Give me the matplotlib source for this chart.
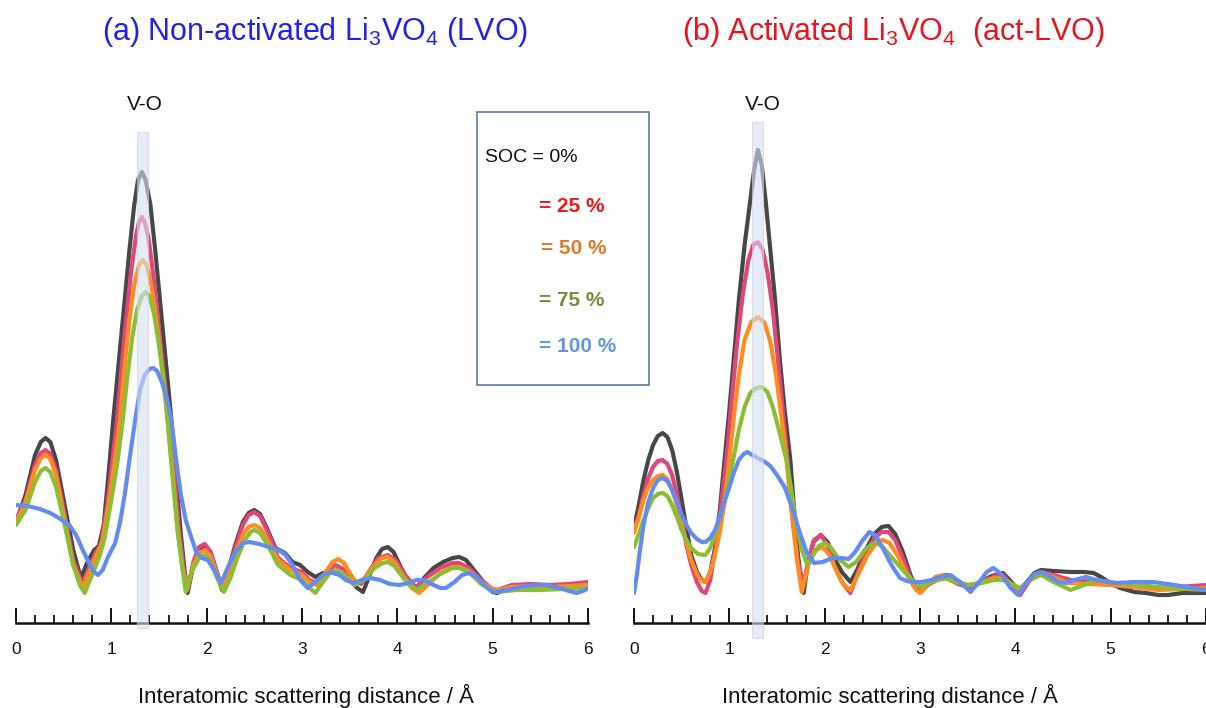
import matplotlib
matplotlib.use("Agg")
import matplotlib.pyplot as plt
from matplotlib.patches import Rectangle

plt.rcParams['font.family'] = ['Liberation Sans', 'DejaVu Sans']
plt.rcParams['mathtext.fontset'] = 'custom'
plt.rcParams['mathtext.rm'] = 'Liberation Sans'
plt.rcParams['mathtext.it'] = 'Liberation Sans:italic'

# ---------------- data (Å, arbitrary intensity) ----------------
# Panel (a): non-activated LVO
a_black_x = [0.00,0.10,0.20,0.26,0.31,0.36,0.42,0.50,0.60,0.68,0.75,0.82,0.87,0.92,0.97,1.02,1.08,1.14,1.19,1.24,1.28,1.32,1.36,1.41,1.46,1.51,1.57,1.63,1.68,1.73,1.77,1.80,1.86,1.92,1.98,2.04,2.10,2.16,2.22,2.30,2.38,2.44,2.50,2.56,2.64,2.72,2.82,2.90,2.98,3.06,3.14,3.22,3.30,3.40,3.50,3.58,3.64,3.71,3.78,3.84,3.90,3.96,4.04,4.12,4.20,4.28,4.38,4.48,4.58,4.65,4.72,4.82,4.92,5.00,5.05,5.15,5.30,5.50,5.70,5.85,6.00]
a_black_y = [98,125,165,178,182,178,160,120,70,42,58,70,74,95,145,200,260,320,370,415,440,448,440,415,370,320,260,200,140,85,48,27,55,70,75,68,50,30,48,75,98,107,110,106,90,72,67,58,55,48,43,47,48,45,40,32,28,45,62,71,73,68,52,38,32,42,52,58,62,63,60,48,36,28,27,32,33,32,33,34,35]

a_pink_x = [0.00,0.10,0.20,0.26,0.31,0.36,0.42,0.50,0.60,0.70,0.78,0.84,0.89,0.95,1.00,1.06,1.11,1.16,1.21,1.26,1.29,1.32,1.35,1.39,1.44,1.50,1.55,1.61,1.66,1.71,1.76,1.80,1.86,1.92,1.98,2.04,2.10,2.16,2.22,2.30,2.38,2.44,2.50,2.56,2.64,2.75,2.88,3.00,3.08,3.15,3.25,3.35,3.45,3.55,3.62,3.70,3.80,3.90,3.98,4.08,4.20,4.30,4.45,4.58,4.65,4.75,4.88,5.00,5.05,5.20,5.40,5.60,5.80,6.00]
a_pink_y = [98,120,155,167,170,166,150,110,60,35,55,68,75,110,150,200,255,305,350,385,398,403,398,382,345,290,245,200,145,90,50,30,58,73,76,68,50,32,48,72,95,105,108,104,88,62,52,48,40,37,48,55,50,38,36,48,62,65,60,45,32,42,52,57,57,52,40,31,30,35,36,35,36,38]

a_orange_x = [0.00,0.10,0.20,0.26,0.31,0.36,0.42,0.50,0.60,0.70,0.80,0.86,0.91,0.97,1.03,1.09,1.14,1.19,1.24,1.29,1.33,1.37,1.42,1.48,1.54,1.59,1.65,1.70,1.75,1.80,1.86,1.92,1.98,2.04,2.10,2.16,2.22,2.30,2.38,2.44,2.50,2.56,2.64,2.75,2.88,3.00,3.08,3.15,3.25,3.32,3.38,3.44,3.52,3.58,3.66,3.76,3.84,3.90,3.97,4.06,4.15,4.23,4.32,4.45,4.58,4.65,4.75,4.88,5.00,5.05,5.20,5.40,5.60,5.80,6.00]
a_orange_y = [98,118,150,162,165,161,145,105,55,32,55,68,80,115,155,200,255,300,335,355,360,355,335,295,245,200,140,85,50,32,55,67,70,64,48,31,45,67,85,93,95,92,80,60,50,45,38,35,48,58,61,57,44,37,42,55,62,63,58,44,32,27,35,47,53,53,49,38,31,30,33,34,33,34,35]

a_green_x = [0.00,0.10,0.20,0.26,0.31,0.36,0.42,0.50,0.60,0.67,0.72,0.82,0.88,0.93,1.00,1.06,1.12,1.17,1.22,1.27,1.32,1.36,1.40,1.45,1.50,1.55,1.59,1.64,1.69,1.74,1.78,1.84,1.92,1.98,2.04,2.11,2.18,2.25,2.32,2.40,2.46,2.50,2.56,2.64,2.75,2.88,3.00,3.08,3.14,3.22,3.30,3.36,3.45,3.55,3.65,3.76,3.85,3.90,3.97,4.08,4.20,4.30,4.45,4.58,4.65,4.75,4.88,5.00,5.05,5.25,5.50,5.75,6.00]
a_green_y = [95,110,138,149,152,148,133,100,55,35,27,50,65,82,120,155,200,245,283,310,324,328,324,305,275,240,200,145,95,55,28,48,62,65,58,42,28,42,62,80,88,90,87,75,55,45,40,32,27,38,48,50,45,35,40,52,57,58,54,40,30,36,46,52,52,48,36,29,28,30,30,31,32]

a_blue_x = [0.00,0.12,0.25,0.36,0.45,0.56,0.63,0.70,0.76,0.82,0.86,0.91,0.96,1.04,1.09,1.14,1.19,1.25,1.30,1.35,1.40,1.44,1.48,1.53,1.58,1.63,1.68,1.73,1.78,1.83,1.89,1.95,2.01,2.08,2.15,2.22,2.30,2.38,2.45,2.55,2.65,2.75,2.82,2.90,2.98,3.06,3.14,3.22,3.30,3.38,3.46,3.54,3.63,3.72,3.82,3.92,4.02,4.12,4.20,4.27,4.36,4.45,4.51,4.60,4.68,4.75,4.82,4.90,4.97,5.03,5.15,5.30,5.45,5.56,5.70,5.80,5.88,5.95,6.00]
a_blue_y = [115,114,111,107,102,95,85,70,58,48,45,50,62,77,97,125,160,200,230,245,251,252,249,238,222,200,160,125,100,85,68,62,60,50,37,52,68,77,78,76,73,70,66,55,40,32,38,45,48,46,40,37,40,42,40,36,35,37,40,40,36,32,32,38,45,47,44,36,30,28,30,33,35,35,32,29,27,29,32]

# Panel (b): activated LVO
b_black_x = [0.00,0.05,0.10,0.15,0.20,0.25,0.30,0.35,0.40,0.45,0.50,0.55,0.60,0.66,0.71,0.75,0.80,0.85,0.90,0.95,1.00,1.05,1.10,1.16,1.22,1.26,1.30,1.34,1.38,1.43,1.48,1.53,1.58,1.64,1.68,1.72,1.75,1.78,1.82,1.88,1.96,2.03,2.10,2.18,2.27,2.34,2.42,2.52,2.60,2.67,2.74,2.82,2.90,2.96,3.01,3.08,3.18,3.28,3.38,3.46,3.52,3.62,3.75,3.87,3.96,4.05,4.12,4.20,4.27,4.40,4.58,4.72,4.82,4.90,4.98,5.10,5.25,5.37,5.50,5.60,5.75,5.90,6.00]
b_black_y = [92,115,140,160,175,184,187,183,170,148,120,92,65,48,40,38,48,72,110,160,210,265,320,375,420,450,470,455,420,370,320,260,210,160,110,65,42,27,55,78,85,78,62,48,38,50,68,86,93,94,86,68,45,32,28,35,43,45,40,35,33,37,44,47,38,27,38,47,50,49,48,48,47,43,38,32,28,27,25,25,27,27,27]

b_pink_x = [0.00,0.05,0.10,0.15,0.20,0.25,0.30,0.35,0.40,0.45,0.50,0.55,0.60,0.66,0.71,0.75,0.80,0.85,0.90,0.97,1.02,1.08,1.14,1.20,1.25,1.30,1.35,1.40,1.45,1.50,1.55,1.61,1.66,1.72,1.78,1.83,1.89,1.96,2.03,2.10,2.18,2.27,2.34,2.42,2.52,2.60,2.67,2.74,2.82,2.90,3.00,3.08,3.18,3.28,3.40,3.52,3.65,3.78,3.87,3.96,4.05,4.14,4.22,4.27,4.40,4.58,4.82,5.00,5.37,5.70,6.00]
b_pink_y = [90,105,125,142,153,159,160,156,145,125,100,75,55,38,29,27,40,70,105,160,215,275,325,360,375,378,370,348,315,270,220,160,105,58,35,60,80,85,75,55,38,27,45,65,82,88,88,80,62,42,30,35,40,42,36,32,38,44,45,35,25,38,46,48,45,40,38,35,32,33,35]

b_orange_x = [0.00,0.05,0.10,0.15,0.20,0.25,0.30,0.35,0.40,0.45,0.50,0.55,0.60,0.66,0.71,0.75,0.80,0.85,0.90,0.95,1.00,1.05,1.10,1.16,1.23,1.30,1.37,1.43,1.49,1.55,1.60,1.65,1.71,1.76,1.83,1.90,1.98,2.05,2.13,2.20,2.27,2.35,2.45,2.55,2.61,2.68,2.78,2.88,2.96,3.00,3.08,3.16,3.24,3.32,3.42,3.52,3.65,3.78,3.87,3.96,4.05,4.15,4.27,4.40,4.55,4.75,5.00,5.25,5.50,5.75,6.00]
b_orange_y = [87,102,120,133,140,144,145,141,130,115,95,78,60,46,39,38,48,65,88,118,160,205,245,280,298,303,297,278,245,200,160,110,60,28,55,70,73,65,48,35,30,45,65,78,80,77,62,42,30,27,35,43,45,42,37,35,38,42,42,36,30,40,48,43,37,36,35,33,30,31,32]

b_green_x = [0.00,0.05,0.10,0.15,0.20,0.25,0.30,0.35,0.40,0.45,0.50,0.55,0.60,0.67,0.75,0.80,0.85,0.91,0.98,1.04,1.10,1.16,1.22,1.28,1.34,1.40,1.46,1.52,1.56,1.60,1.65,1.70,1.76,1.82,1.88,1.94,2.00,2.06,2.14,2.25,2.33,2.42,2.50,2.54,2.60,2.70,2.80,2.90,3.00,3.12,3.25,3.38,3.50,3.65,3.78,3.87,3.96,4.05,4.15,4.27,4.40,4.58,4.72,4.85,5.05,5.30,5.60,6.00]
b_green_y = [73,86,100,112,122,126,127,124,115,103,90,80,72,66,65,72,85,105,132,160,190,213,227,232,233,228,212,190,175,160,130,98,70,55,65,74,77,73,62,53,58,70,76,77,74,63,52,42,33,38,42,38,35,37,40,40,36,32,40,45,38,30,35,40,37,35,32,30]

b_blue_x = [0.00,0.03,0.06,0.10,0.15,0.20,0.25,0.30,0.35,0.40,0.45,0.50,0.55,0.60,0.66,0.71,0.75,0.80,0.85,0.90,0.95,1.00,1.05,1.10,1.15,1.19,1.24,1.30,1.36,1.43,1.50,1.58,1.66,1.74,1.81,1.89,1.98,2.08,2.18,2.25,2.32,2.40,2.47,2.54,2.62,2.70,2.79,2.86,2.92,3.02,3.12,3.22,3.32,3.42,3.53,3.62,3.70,3.77,3.85,3.95,4.03,4.12,4.20,4.27,4.36,4.45,4.54,4.62,4.74,4.85,5.05,5.25,5.45,5.60,5.80,6.00]
b_blue_y = [27,45,68,95,118,132,140,142,139,130,118,105,95,87,81,78,78,82,90,103,118,133,148,160,166,168,165,162,159,154,145,133,112,87,68,57,58,62,62,61,68,80,88,84,70,55,42,39,38,38,40,43,45,38,28,38,48,52,46,32,25,38,46,48,44,38,37,40,43,40,37,38,38,36,33,30]

soc_labels = ["SOC = 0%", "= 25 %", "= 50 %", "= 75 %", "= 100 %"]
line_colors = ["#474747", "#e0467a", "#ff8c1e", "#8cbe32", "#648cf0"]
label_colors = ["#111111", "#f01818", "#e07828", "#7a8c3c", "#6496dc"]
tick_vals = [0, 1, 2, 3, 4, 5, 6]
titles = [r"(a) Non-activated Li$_3$VO$_4$ (LVO)", r"(b) Activated Li$_3$VO$_4$  (act-LVO)"]
title_colors = ["#2222e6", "#e8141e"]
xlabel = "Interatomic scattering distance / Å"
band_a = (1.27, 1.385)
band_b = (1.237, 1.352)

W, H = 1206, 708
fig = plt.figure(figsize=(W/100, H/100), dpi=100)

def fx(px):
    return px / W

def fy(py):
    return 1 - py / H

# spine at pixel row 623; ylim -3..520 keeps 1 unit = 1 px
ax_a = fig.add_axes([fx(16), fy(623), 572/W, 523/H])
ax_b = fig.add_axes([fx(634), fy(623), 572/W, 523/H])

series_a = [(a_black_x, a_black_y), (a_pink_x, a_pink_y), (a_orange_x, a_orange_y),
            (a_green_x, a_green_y), (a_blue_x, a_blue_y)]
series_b = [(b_black_x, b_black_y), (b_pink_x, b_pink_y), (b_orange_x, b_orange_y),
            (b_green_x, b_green_y), (b_blue_x, b_blue_y)]

for ax, series, band, btop, bbot in [(ax_a, series_a, band_a, 488, -8), (ax_b, series_b, band_b, 498, -18)]:
    ax.set_facecolor('none')
    for (xs, ys), c in zip(series, line_colors):
        ax.plot(xs, ys, color=c, lw=3.0, solid_joinstyle='round', solid_capstyle='round', zorder=3)
    ax.add_patch(Rectangle((band[0], bbot), band[1]-band[0], btop-bbot,
                           facecolor='#d6e0ef', edgecolor='#c4d0e4', lw=0.8,
                           alpha=0.6, zorder=5, clip_on=False))
    ax.set_xlim(0, 6)
    ax.set_ylim(-3, 520)
    for s in ['top', 'left', 'right']:
        ax.spines[s].set_visible(False)
    ax.spines['bottom'].set_linewidth(1.8)
    ax.spines['bottom'].set_color('#111111')
    ax.set_yticks([])
    ax.set_xticks(tick_vals)
    ax.set_xticklabels([str(t) for t in tick_vals])
    ax.set_xticks([t/5 for t in range(31)], minor=True)
    ax.tick_params(axis='x', which='major', direction='in', length=11, width=1.4,
                   pad=14, labelsize=12.5, colors='#111111')
    ax.tick_params(axis='x', which='minor', direction='in', length=6, width=1.3, colors='#111111')

# titles
fig.text(fx(315), fy(32), titles[0], ha='center', va='center', fontsize=22, color=title_colors[0])
fig.text(fx(893), fy(32), titles[1], ha='center', va='center', fontsize=22, color=title_colors[1])

# V-O labels
fig.text(fx(145), fy(105), "V-O", ha='center', va='center', fontsize=15, color='#111111')
fig.text(fx(763), fy(105), "V-O", ha='center', va='center', fontsize=15, color='#111111')

# x labels
fig.text(fx(306), fy(696), xlabel, ha='center', va='center', fontsize=16, color='#111111')
fig.text(fx(890), fy(696), xlabel, ha='center', va='center', fontsize=16, color='#111111')

# legend box
fig.patches.append(Rectangle((fx(477), fy(385)), (649-477)/W, (385-112)/H,
                             transform=fig.transFigure, facecolor='none',
                             edgecolor='#5a7ab4', lw=1.2, zorder=10))
leg_pos = [(485, 157), (539, 207), (541, 249), (539, 300), (539, 346)]
leg_weight = ['normal', 'bold', 'bold', 'bold', 'bold']
leg_size = [14, 15, 15, 15, 15]
for (px, py), lab, c, wt, sz in zip(leg_pos, soc_labels, label_colors, leg_weight, leg_size):
    fig.text(fx(px), fy(py), lab, ha='left', va='center', fontsize=sz, color=c, fontweight=wt)

fig.savefig("out.png", dpi=100)
